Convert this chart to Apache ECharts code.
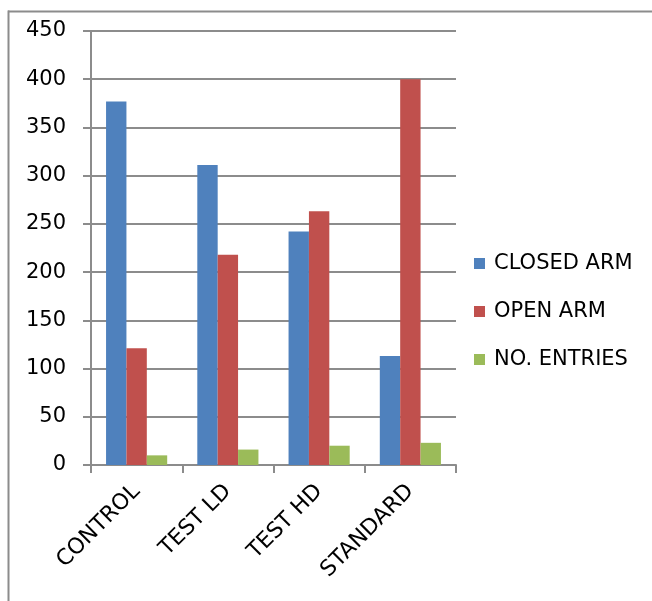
<!DOCTYPE html>
<html>
<head>
<meta charset="utf-8">
<script src="https://cdn.jsdelivr.net/npm/echarts@6/dist/echarts.min.js"></script>
<style>
  html, body { margin: 0; padding: 0; background: #fff; overflow: hidden; }
  #container { width: 652px; height: 601px; }
</style>
</head>
<body>
<div id="container"></div>
<script>
// groups and values
var groups = ["CONTROL", "TEST LD", "TEST HD", "STANDARD"];
var closedArm = [377, 311, 242, 113];
var openArm = [121, 218, 263, 400];
var noEntries = [10, 16, 20, 23];
var seriesNames = ["CLOSED ARM", "OPEN ARM", "NO. ENTRIES"];
var colors = ["#4F81BD", "#C0504D", "#9BBB59"];

var font = "DejaVu Sans";
var dom = document.getElementById("container");
var myChart = echarts.init(dom, null, { renderer: "canvas" });

function barSeries(name, data, color) {
    return {
        name: name,
        type: "bar",
        data: data,
        barGap: "0%",
        barCategoryGap: "33%",
        itemStyle: { color: color },
        animation: false
    };
}

var option = {
    backgroundColor: "#fff",
    animation: false,
    grid: { left: 91, right: 196, top: 31, bottom: 136, containLabel: false },
    legend: {
        orient: "vertical",
        left: 469,
        top: 248,
        itemWidth: 11,
        itemHeight: 11,
        itemGap: 27,
        icon: "rect",
        textStyle: { fontFamily: font, fontSize: 21, lineHeight: 21, color: "#000", padding: [0, 0, 0, 4] },
        data: seriesNames
    },
    xAxis: {
        type: "category",
        data: groups,
        axisLine: { lineStyle: { color: "#8c8c8c", width: 2 } },
        axisTick: { show: true, length: 8, lineStyle: { color: "#8c8c8c", width: 2 } },
        axisLabel: { rotate: 45, margin: 23, fontFamily: font, fontSize: 22, color: "#000" }
    },
    yAxis: {
        type: "value",
        min: 0,
        max: 450,
        interval: 50,
        axisLine: { show: true, lineStyle: { color: "#8c8c8c", width: 2 } },
        axisTick: { show: true, length: 8, lineStyle: { color: "#8c8c8c", width: 2 } },
        splitLine: { lineStyle: { color: "#8c8c8c", width: 2 } },
        axisLabel: { margin: 25, fontFamily: font, fontSize: 21, color: "#000" }
    },
    // outer frame: only the top and left edges are visible in the picture
    graphic: [
        { type: "rect", shape: { x: 8, y: 10.5, width: 700, height: 2 }, style: { fill: "#8c8c8c" } },
        { type: "rect", shape: { x: 7.5, y: 10.5, width: 2, height: 600 }, style: { fill: "#8c8c8c" } }
    ],
    series: [
        barSeries(seriesNames[0], closedArm, colors[0]),
        barSeries(seriesNames[1], openArm, colors[1]),
        barSeries(seriesNames[2], noEntries, colors[2])
    ]
};

myChart.setOption(option);
</script>
</body>
</html>
